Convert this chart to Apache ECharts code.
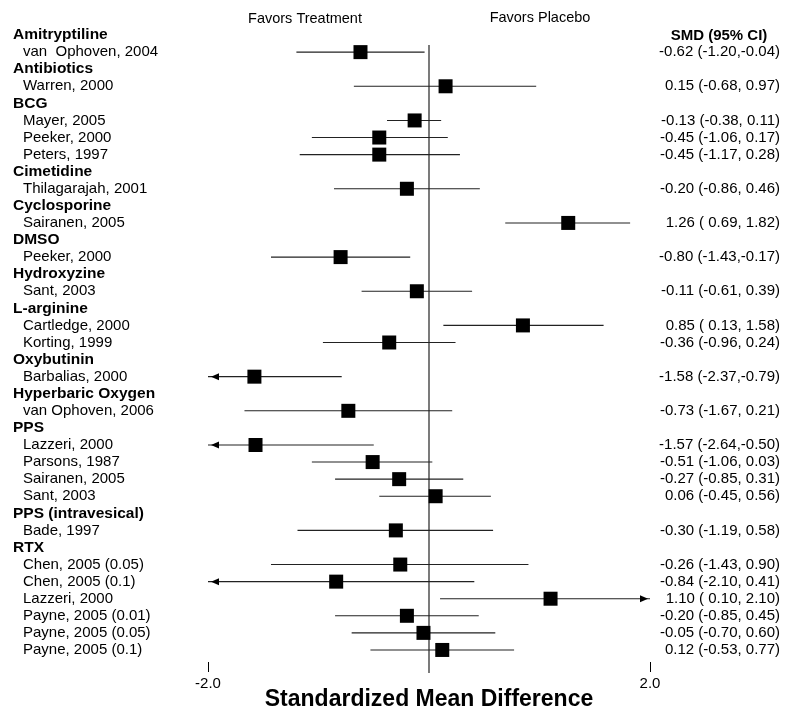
<!DOCTYPE html>
<html>
<head>
<meta charset="utf-8">
<script src="https://cdn.jsdelivr.net/npm/echarts@6/dist/echarts.min.js"></script>
<style>html,body{margin:0;padding:0;background:#fff}#c{width:800px;height:718px}</style>
</head>
<body>
<div id="c"></div>
<script>
const rowLabels = ['Amitryptiline','van  Ophoven, 2004','Antibiotics','Warren, 2000','BCG','Mayer, 2005','Peeker, 2000','Peters, 1997','Cimetidine','Thilagarajah, 2001','Cyclosporine','Sairanen, 2005','DMSO','Peeker, 2000','Hydroxyzine','Sant, 2003','L-arginine','Cartledge, 2000','Korting, 1999','Oxybutinin','Barbalias, 2000','Hyperbaric Oxygen','van Ophoven, 2006','PPS','Lazzeri, 2000','Parsons, 1987','Sairanen, 2005','Sant, 2003','PPS (intravesical)','Bade, 1997','RTX','Chen, 2005 (0.05)','Chen, 2005 (0.1)','Lazzeri, 2000','Payne, 2005 (0.01)','Payne, 2005 (0.05)','Payne, 2005 (0.1)'];
// null = group heading row
const smd    = [null,-0.62,null, 0.15,null,-0.13,-0.45,-0.45,null,-0.20,null, 1.26,null,-0.80,null,-0.11,null, 0.85,-0.36,null,-1.58,null,-0.73,null,-1.57,-0.51,-0.27, 0.06,null,-0.30,null,-0.26,-0.84, 1.10,-0.20,-0.05, 0.12];
const ciLow  = [null,-1.20,null,-0.68,null,-0.38,-1.06,-1.17,null,-0.86,null, 0.69,null,-1.43,null,-0.61,null, 0.13,-0.96,null,-2.37,null,-1.67,null,-2.64,-1.06,-0.85,-0.45,null,-1.19,null,-1.43,-2.10, 0.10,-0.85,-0.70,-0.53];
const ciHigh = [null,-0.04,null, 0.97,null, 0.11, 0.17, 0.28,null, 0.46,null, 1.82,null,-0.17,null, 0.39,null, 1.58, 0.24,null,-0.79,null, 0.21,null,-0.50, 0.03, 0.31, 0.56,null, 0.58,null, 0.90, 0.41, 2.10, 0.45, 0.60, 0.77];
const xTicks = [-2, 2];
const xMin = -2, xMax = 2;

const FONT = '"Liberation Sans", Arial, Helvetica, sans-serif';
const pad5 = v => { const s = v.toFixed(2); return s.length < 5 ? ' ' + s : s; };
const ciText = smd.map((v, i) => v === null ? '' : v.toFixed(2) + ' (' + pad5(ciLow[i]) + ',' + pad5(ciHigh[i]) + ')');
const isHeading = smd.map(v => v === null);

const pointData = [], ciData = [];
smd.forEach((v, i) => {
  if (v === null) return;
  pointData.push([v, i]);
  ciData.push([ciLow[i], ciHigh[i], i]);
});
const nRows = rowLabels.length;

const chart = echarts.init(document.getElementById('c'), null, {renderer: 'canvas'});
chart.setOption({
  backgroundColor: '#fff',
  animation: false,
  textStyle: {fontFamily: FONT, color: '#000'},
  grid: {left: 208, right: 150, top: 26.5, bottom: 59.5, containLabel: false, outerBoundsMode: 'none'},
  xAxis: {
    type: 'value', min: xMin, max: xMax, offset: 3.5, position: 'bottom',
    splitLine: {show: false},
    axisLine: {show: false, onZero: false},
    axisTick: {show: true, customValues: xTicks, length: 10, lineStyle: {color: '#000', width: 1}},
    axisLabel: {customValues: xTicks, formatter: v => v.toFixed(1), fontSize: 15, color: '#000', margin: 14, fontFamily: FONT},
    name: 'Standardized Mean Difference', nameLocation: 'middle', nameGap: 26, nameMoveOverlap: false,
    nameTextStyle: {fontSize: 23, fontWeight: 'bold', color: '#000', fontFamily: FONT}
  },
  yAxis: [
    {
      type: 'category', data: rowLabels, inverse: true, position: 'left',
      axisLine: {show: false}, axisTick: {show: false}, splitLine: {show: false},
      axisLabel: {
        interval: 0, align: 'left', margin: 195, color: '#000', fontFamily: FONT,
        formatter: (v, i) => isHeading[i] ? '{h|' + v + '}' : '{s|' + v + '}',
        rich: {
          h: {fontWeight: 'bold', fontSize: 15.5, color: '#000', fontFamily: FONT},
          s: {fontSize: 15, color: '#000', padding: [0, 0, 0, 10], fontFamily: FONT}
        }
      }
    },
    {
      type: 'category', data: ciText, inverse: true, position: 'right',
      axisLine: {show: false}, axisTick: {show: false}, splitLine: {show: false},
      axisLabel: {interval: 0, align: 'right', margin: 130, fontSize: 15, color: '#000', fontFamily: FONT}
    },
    {
      type: 'value', min: -0.5, max: nRows - 0.5, inverse: true, show: false
    }
  ],
  graphic: [
    {type: 'text', x: 305, y: 19, style: {text: 'Favors Treatment', font: '14.5px ' + FONT, fill: '#000', textAlign: 'center', textVerticalAlign: 'middle'}},
    {type: 'text', x: 540, y: 18, style: {text: 'Favors Placebo', font: '14.5px ' + FONT, fill: '#000', textAlign: 'center', textVerticalAlign: 'middle'}},
    {type: 'text', x: 719, y: 36, style: {text: 'SMD (95% CI)', font: 'bold 15px ' + FONT, fill: '#000', textAlign: 'center', textVerticalAlign: 'middle'}}
  ],
  series: [
    {
      type: 'custom', yAxisIndex: 2, silent: true, z: 1, clip: false,
      data: [[0]],
      renderItem: (params, api) => {
        const top = api.coord([api.value(0), 0.58]);
        const bot = api.coord([api.value(0), nRows + 0.35]);
        return {type: 'line', shape: {x1: top[0], y1: top[1], x2: bot[0], y2: bot[1]}, style: {stroke: '#222', lineWidth: 1.2}};
      }
    },
    {
      type: 'custom', yAxisIndex: 2, silent: true, z: 2, clip: false,
      data: ciData,
      encode: {x: [0, 1], y: 2},
      renderItem: (params, api) => {
        const lo = api.value(0), hi = api.value(1), row = api.value(2);
        const p1 = api.coord([Math.max(lo, xMin), row]);
        const p2 = api.coord([Math.min(hi, xMax), row]);
        const children = [{type: 'line', shape: {x1: p1[0], y1: p1[1], x2: p2[0], y2: p2[1]}, style: {stroke: '#222', lineWidth: 1.1}}];
        if (lo < xMin) {
          children.push({type: 'polygon', shape: {points: [[p1[0] + 3, p1[1]], [p1[0] + 11, p1[1] - 3.5], [p1[0] + 11, p1[1] + 3.5]]}, style: {fill: '#000'}});
        }
        if (hi > xMax) {
          children.push({type: 'polygon', shape: {points: [[p2[0] - 2, p2[1]], [p2[0] - 10, p2[1] - 3.5], [p2[0] - 10, p2[1] + 3.5]]}, style: {fill: '#000'}});
        }
        return {type: 'group', children};
      }
    },
    {
      type: 'scatter', yAxisIndex: 2, z: 3, silent: true,
      symbol: 'rect', symbolSize: 14,
      itemStyle: {color: '#000', opacity: 1},
      data: pointData
    }
  ]
});
</script>
</body>
</html>
